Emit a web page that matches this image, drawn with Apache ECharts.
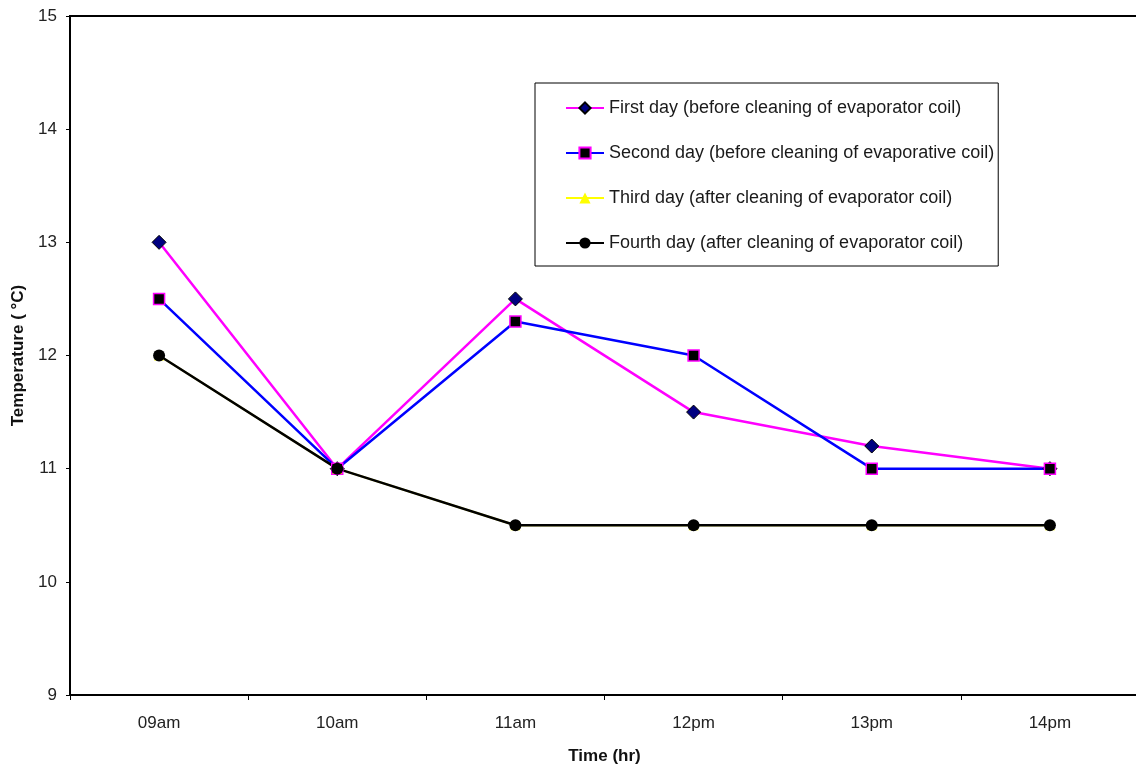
<!DOCTYPE html>
<html>
<head>
<meta charset="utf-8">
<script src="https://cdn.jsdelivr.net/npm/echarts@6/dist/echarts.min.js"></script>
<style>
  html, body { margin: 0; padding: 0; background: #fff; }
  #chart { width: 1136px; height: 772px; }
</style>
</head>
<body>
<div id="chart"></div>
<script>
var hours = ['09am', '10am', '11am', '12pm', '13pm', '14pm'];
var firstDay = [13, 11, 12.5, 11.5, 11.2, 11];
var secondDay = [12.5, 11, 12.3, 12, 11, 11];
var thirdDay = [12, 11, 10.5, 10.5, 10.5, 10.5];
var fourthDay = [12, 11, 10.5, 10.5, 10.5, 10.5];
var names = [
    'First day (before cleaning of evaporator coil)',
    'Second day (before cleaning of evaporative coil)',
    'Third day (after cleaning of evaporator coil)',
    'Fourth day (after cleaning of evaporator coil)'
];

var myChart = echarts.init(document.getElementById('chart'));
var font = 'Liberation Sans, Arial, sans-serif';

var option = {
    animation: false,
    grid: {
        left: 70,
        top: 16,
        width: 1069,
        height: 679,
        outerBoundsMode: 'none',
        show: true,
        borderColor: '#000',
        borderWidth: 2
    },
    legend: {
        orient: 'vertical',
        left: 535,
        top: 83,
        padding: [16, 4, 14, 30],
        itemGap: 27,
        itemWidth: 38,
        itemHeight: 14,
        borderColor: '#000',
        borderWidth: 1,
        textStyle: { fontFamily: font, fontSize: 18, color: '#1a1a1a' },
        data: names
    },
    xAxis: {
        type: 'category',
        data: hours,
        boundaryGap: true,
        name: 'Time (hr)',
        nameLocation: 'middle',
        nameGap: 53,
        nameTextStyle: { fontFamily: font, fontSize: 17, fontWeight: 'bold', color: '#111' },
        axisLine: { lineStyle: { color: '#000', width: 2 } },
        axisTick: { show: true, length: 5, lineStyle: { color: '#000' } },
        axisLabel: { margin: 20, fontFamily: font, fontSize: 17, color: '#222' },
        splitLine: { show: false }
    },
    yAxis: {
        type: 'value',
        min: 9,
        max: 15,
        interval: 1,
        name: 'Temperature ( °C)',
        nameLocation: 'middle',
        nameGap: 42,
        nameTextStyle: { fontFamily: font, fontSize: 17, fontWeight: 'bold', color: '#111' },
        axisLine: { show: true, lineStyle: { color: '#000', width: 2 } },
        axisTick: { show: true, length: 4, lineStyle: { color: '#000' } },
        axisLabel: { margin: 13, fontFamily: font, fontSize: 17, color: '#222' },
        splitLine: { show: false }
    },
    series: [{
        name: names[0],
        type: 'line',
        data: firstDay,
        symbol: 'diamond',
        symbolSize: 14,
        lineStyle: { color: '#ff00ff', width: 2.5 },
        itemStyle: { color: '#000080', borderColor: '#000', borderWidth: 1 }
    }, {
        name: names[1],
        type: 'line',
        data: secondDay,
        symbol: 'rect',
        symbolSize: 11,
        lineStyle: { color: '#0000ff', width: 2.5 },
        itemStyle: { color: '#000', borderColor: '#ff00ff', borderWidth: 1.5 }
    }, {
        name: names[2],
        type: 'line',
        data: thirdDay,
        symbol: 'triangle',
        symbolSize: 10,
        lineStyle: { color: '#ffff00', width: 2 },
        itemStyle: { color: '#ffff00' }
    }, {
        name: names[3],
        type: 'line',
        data: fourthDay,
        symbol: 'circle',
        symbolSize: 12,
        lineStyle: { color: '#000', width: 2.5 },
        itemStyle: { color: '#000' }
    }]
};

myChart.setOption(option);
</script>
</body>
</html>
